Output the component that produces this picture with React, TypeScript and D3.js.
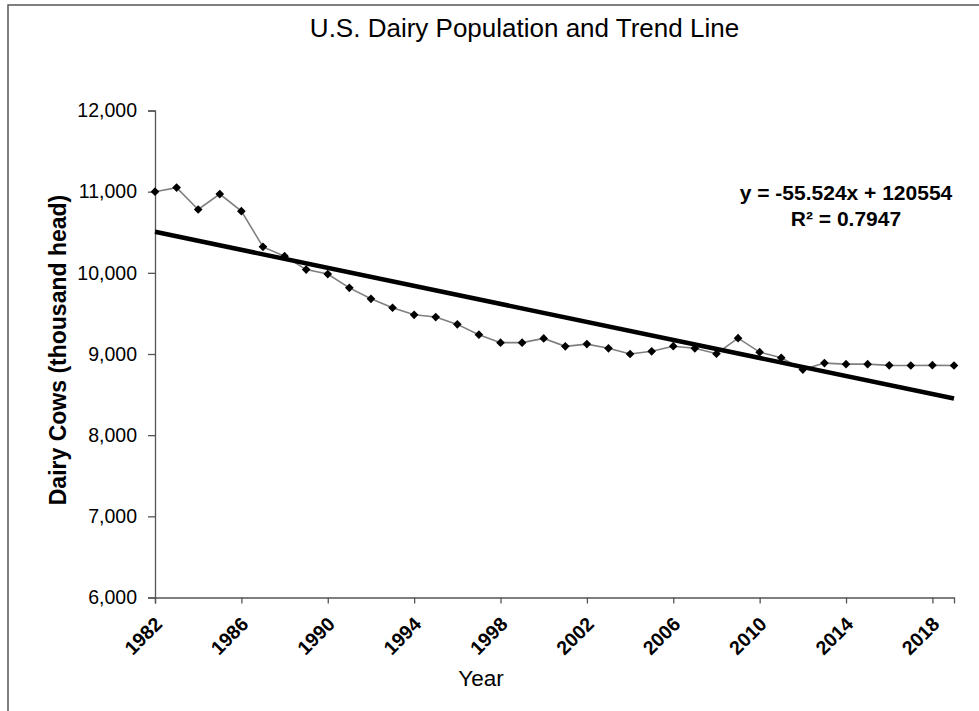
import React, { useRef, useEffect } from "react";
import * as d3 from "d3";

// Dairy cow inventory (thousand head)
const years = [
  1982, 1983, 1984, 1985, 1986, 1987, 1988, 1989, 1990, 1991, 1992, 1993, 1994,
  1995, 1996, 1997, 1998, 1999, 2000, 2001, 2002, 2003, 2004, 2005, 2006, 2007,
  2008, 2009, 2010, 2011, 2012, 2013, 2014, 2015, 2016, 2017, 2018, 2019,
];
const cows = [
  11000, 11050, 10780, 10970, 10760, 10320, 10205, 10040, 9985, 9815, 9680,
  9570, 9483, 9455, 9365, 9238, 9140, 9140, 9192, 9094, 9122, 9070, 9000, 9033,
  9096, 9070, 9003, 9195, 9023, 8953, 8808, 8888, 8875, 8875, 8860, 8858, 8862,
  8858,
];
const yTicks = [6000, 7000, 8000, 9000, 10000, 11000, 12000];
const xTicks = [1982, 1986, 1990, 1994, 1998, 2002, 2006, 2010, 2014, 2018];

// trend line as printed on the chart
const trendSlope = -55.524;
const trendIntercept = 120554;
const trendLabel = "y = -55.524x + 120554";
const r2Label = "R\u00B2 = 0.7947";

const W = 979;
const H = 711;
const FONT = "'Liberation Sans', Arial, sans-serif";

const App = () => {
  const svgRef = useRef(null);

  useEffect(() => {
    const svg = d3.select(svgRef.current);
    svg.selectAll("*").remove();

    const x = d3.scaleLinear().domain([1982, 2019]).range([155, 954]);
    const y = d3.scaleLinear().domain([6000, 12000]).range([597.5, 110.5]);

    // chart frame
    svg
      .append("rect")
      .attr("x", 8)
      .attr("y", 5)
      .attr("width", W + 20)
      .attr("height", H + 20)
      .attr("fill", "#fff")
      .attr("stroke", "#555")
      .attr("stroke-width", 1.5);

    // title
    svg
      .append("text")
      .attr("x", 524.5)
      .attr("y", 36.5)
      .attr("text-anchor", "middle")
      .attr("font-family", FONT)
      .attr("font-size", 26)
      .text("U.S. Dairy Population and Trend Line");

    // y axis
    const yAxis = svg
      .append("g")
      .attr("transform", `translate(${x(1982)},0)`)
      .call(
        d3
          .axisLeft(y)
          .tickValues(yTicks)
          .tickFormat(d3.format(","))
          .tickSizeOuter(0)
          .tickSize(7)
          .tickPadding(11)
      );
    yAxis.selectAll("path, line").attr("stroke", "#555").attr("stroke-width", 1.3);
    yAxis
      .selectAll("text")
      .attr("font-family", FONT)
      .attr("font-size", 19.5)
      .attr("fill", "#000");

    // x axis
    const xAxis = svg
      .append("g")
      .attr("transform", `translate(0,${y(6000)})`)
      .call(
        d3
          .axisBottom(x)
          .tickValues(xTicks)
          .tickFormat(d3.format("d"))
          .tickSizeOuter(0)
          .tickSize(6)
      );
    xAxis.selectAll("path, line").attr("stroke", "#555").attr("stroke-width", 1.3);
    xAxis
      .selectAll("text")
      .attr("font-family", FONT)
      .attr("font-size", 19.5)
      .attr("font-weight", "bold")
      .attr("fill", "#000")
      .attr("text-anchor", "end")
      .attr("dy", "0.35em")
      .attr("y", 0)
      .attr("transform", "translate(3,23) rotate(-45)");

    // axis titles
    svg
      .append("text")
      .attr("x", 481)
      .attr("y", 686)
      .attr("text-anchor", "middle")
      .attr("font-family", FONT)
      .attr("font-size", 22.5)
      .text("Year");

    svg
      .append("text")
      .attr("transform", "translate(66,350) rotate(-90)")
      .attr("text-anchor", "middle")
      .attr("font-family", FONT)
      .attr("font-size", 23)
      .attr("font-weight", "bold")
      .text("Dairy Cows (thousand head)");

    const data = years.map((yr, i) => ({ year: yr, value: cows[i] }));

    // data line
    const line = d3
      .line()
      .x((d) => x(d.year))
      .y((d) => y(d.value));

    svg
      .append("path")
      .datum(data)
      .attr("d", line)
      .attr("fill", "none")
      .attr("stroke", "#7f7f7f")
      .attr("stroke-width", 1.6);

    // trend line
    const trend = [years[0], years[years.length - 1]].map((yr) => ({
      year: yr,
      value: trendSlope * yr + trendIntercept,
    }));
    svg
      .append("path")
      .datum(trend)
      .attr("d", line)
      .attr("fill", "none")
      .attr("stroke", "#000")
      .attr("stroke-width", 4.5);

    // markers
    const diamond = d3.symbol().type(d3.symbolDiamond2).size(48);
    svg
      .selectAll(".marker")
      .data(data)
      .join("path")
      .attr("class", "marker")
      .attr("d", diamond)
      .attr("transform", (d) => `translate(${x(d.year)},${y(d.value)})`)
      .attr("fill", "#000");

    // equation label
    const eq = svg
      .append("text")
      .attr("text-anchor", "middle")
      .attr("font-family", FONT)
      .attr("font-size", 21)
      .attr("font-weight", "bold");
    eq.append("tspan").attr("x", 846).attr("y", 199.5).text(trendLabel);
    eq.append("tspan").attr("x", 846).attr("y", 226).text(r2Label);
  }, []);

  return (
    <svg
      ref={svgRef}
      width={W}
      height={H}
      style={{ position: "absolute", left: 0, top: 0, background: "#fff" }}
    ></svg>
  );
};

export default App;
